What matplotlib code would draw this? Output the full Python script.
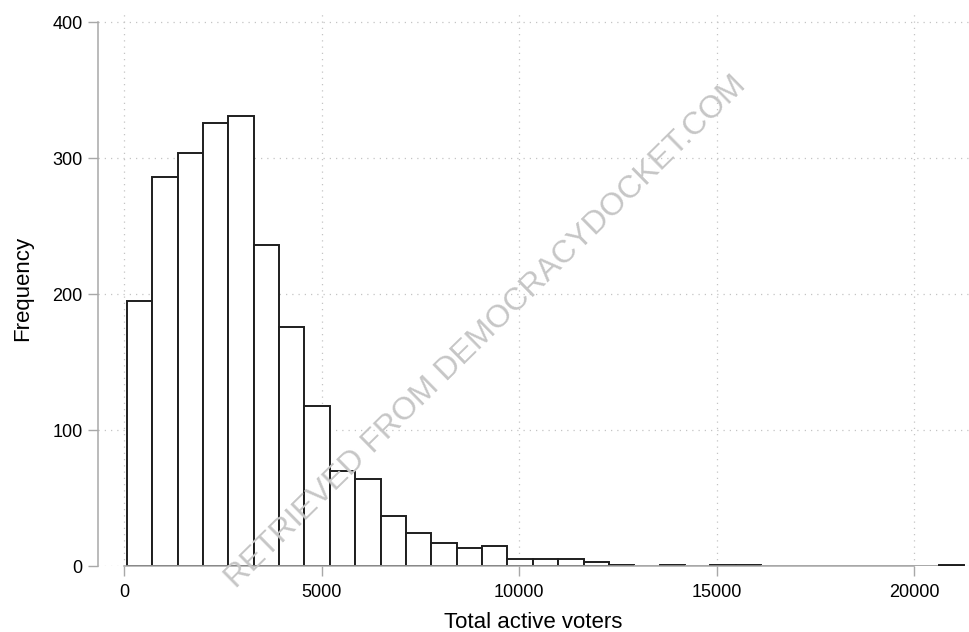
import matplotlib
matplotlib.use("Agg")
import matplotlib.pyplot as plt
import numpy as np

plt.rcParams['font.family'] = ['Liberation Sans', 'DejaVu Sans']

# histogram of total active voters, 33 bins
bin_start = 76
bin_width = 641.8
counts = [195, 286, 304, 326, 331, 236, 176, 118, 70, 64, 37, 24, 17, 13, 15,
          5, 5, 5, 3, 1, 0, 1, 0, 1, 1, 0, 0, 0, 0, 0, 0, 0, 1]
xticks = [0, 5000, 10000, 15000, 20000]
yticks = [0, 100, 200, 300, 400]

axis_grey = "#a8a8a8"
grid_grey = "#c4c4c4"

fig = plt.figure(figsize=(9.69, 6.32), dpi=100)
ax = fig.add_axes([0.101, 0.1044, 0.899, 0.88])

lefts = bin_start + bin_width * np.arange(len(counts))
edge = ["#1e1e1e" if c > 0 else axis_grey for c in counts]
ax.bar(lefts, counts, width=bin_width, align="edge", facecolor="white",
       edgecolor=edge, linewidth=1.4, zorder=3)

ax.set_xlim(-658, 21380)
ax.set_ylim(0, 409)
ax.set_xticks(xticks)
ax.set_yticks(yticks)
ax.set_xticklabels([str(t) for t in xticks])
ax.set_yticklabels([str(t) for t in yticks])

ax.grid(True, color=grid_grey, linestyle=(0, (1, 4)), linewidth=0.9, zorder=0)

for s in ["top", "right"]:
    ax.spines[s].set_visible(False)
ax.spines["left"].set_bounds(0, 400)
ax.spines["bottom"].set_bounds(0, 20000)
for s in ["left", "bottom"]:
    ax.spines[s].set_color(axis_grey)
    ax.spines[s].set_linewidth(1.1)
    ax.spines[s].set_zorder(4)

ax.tick_params(axis="both", colors=axis_grey, length=7.2, width=1.0,
               labelcolor="black", labelsize=13)
ax.tick_params(axis="y", pad=3.6)
ax.tick_params(axis="x", pad=5.5)

ax.set_xlabel("Total active voters", fontsize=16, labelpad=8)
ax.set_ylabel("Frequency", fontsize=16, labelpad=14)

# watermark across the plot
fig.text(0.502, 0.474, "RETRIEVED FROM DEMOCRACYDOCKET.COM", fontsize=23,
         color="#c6c6c6", rotation=44.5, ha="center", va="center", zorder=10)

fig.savefig("out.png", dpi=100)
